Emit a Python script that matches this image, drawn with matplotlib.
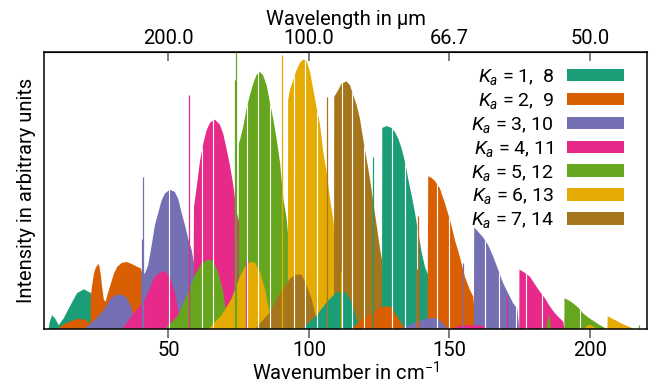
import numpy as np
import matplotlib
matplotlib.use("Agg")
import matplotlib.pyplot as plt
from matplotlib.patches import Patch
from matplotlib.ticker import FormatStrFormatter

plt.rcParams["font.family"] = ["Roboto", "DejaVu Sans"]
plt.rcParams["mathtext.fontset"] = "custom"
plt.rcParams["mathtext.rm"] = "Roboto"
plt.rcParams["mathtext.it"] = "Roboto:italic"
plt.rcParams["mathtext.bf"] = "Roboto:bold"

# Series colours (Dark2), one per K_a pair
colors = ["#1b9e77", "#d95f02", "#7570b3", "#e7298a", "#66a61e", "#e6ab02", "#a6761d"]
legend_labels = ["$K_a$ = 1,  8", "$K_a$ = 2,  9", "$K_a$ = 3, 10", "$K_a$ = 4, 11",
                 "$K_a$ = 5, 12", "$K_a$ = 6, 13", "$K_a$ = 7, 14"]

# Envelopes of the stick spectrum (wavenumber in cm^-1, relative intensity)
# "lower" = weak sub-band, "upper" = strong sub-band, per K_a
lower_1 = [(7.4, 0), (7.8, 0.026), (8.6, 0.05), (9.6, 0.04), (10.8, 0.018), (11.4, 0)]
upper_1 = [(10.6, 0), (11.0, 0.015), (12.8, 0.04), (15.2, 0.087), (17.5, 0.13), (19.9, 0.144),
           (22.3, 0.131), (24.2, 0.09), (25.6, 0.04), (26.3, 0)]

lower_2 = [(10.3, 0), (13.2, 0.02), (17.4, 0.037), (20.3, 0.035), (22.4, 0.02), (23.5, 0)]
upper_2 = [(22.25, 0), (22.4, 0.12), (22.9, 0.16), (23.5, 0.2), (24.1, 0.22), (24.7, 0.23),
           (25.3, 0.235), (25.9, 0.2), (26.45, 0.15), (27.05, 0.105), (27.7, 0.1), (28.2, 0.12),
           (29.4, 0.16), (30.6, 0.2), (31.8, 0.225), (33.6, 0.24), (35.3, 0.242), (37.0, 0.235),
           (38.9, 0.225), (40.1, 0.22), (41.6, 0.18), (43.4, 0.1), (44.8, 0)]

lower_3 = [(19.9, 0), (23.5, 0.03), (27.05, 0.069), (29.4, 0.11), (31.2, 0.123), (33.0, 0.125),
           (34.8, 0.118), (36.55, 0.087), (37.7, 0.045), (38.8, 0)]
upper_3 = [(40.2, 0), (40.4, 0.2), (41.6, 0.2), (42.8, 0.23), (44.0, 0.3), (45.2, 0.375),
           (46.4, 0.42), (47.6, 0.465), (48.8, 0.49), (50.5, 0.503), (52.3, 0.495), (53.5, 0.47),
           (54.7, 0.42), (55.9, 0.375), (57.05, 0.326), (58.3, 0.285), (59.4, 0.22), (60.5, 0)]

lower_4 = [(33.5, 0), (37.7, 0.058), (41.3, 0.1), (43.1, 0.14), (45.2, 0.19), (47.6, 0.208),
           (48.8, 0.209), (50.5, 0.188), (52.3, 0.134), (53.5, 0.069), (54.1, 0)]
upper_4 = [(58.9, 0), (59.1, 0.44), (60.0, 0.507), (61.2, 0.603), (62.4, 0.669), (63.6, 0.717),
           (64.8, 0.745), (66.55, 0.756), (68.3, 0.738), (69.5, 0.705), (70.7, 0.651),
           (71.9, 0.591), (73.1, 0.519), (74.3, 0.422), (75.45, 0.375), (76.5, 0.3), (77.2, 0)]

lower_5 = [(48.8, 0), (53.5, 0.05), (57.05, 0.134), (59.4, 0.195), (61.8, 0.236), (64.2, 0.252),
           (65.95, 0.245), (67.7, 0.206), (69.5, 0.134), (70.7, 0.05), (71.9, 0)]
upper_5 = [(74.9, 0), (75.1, 0.67), (75.45, 0.681), (76.6, 0.729), (77.8, 0.795), (79.0, 0.844),
           (80.2, 0.886), (81.4, 0.918), (82.6, 0.928), (83.7, 0.916), (84.95, 0.88),
           (86.1, 0.819), (87.3, 0.759), (88.5, 0.687), (89.7, 0.603), (90.9, 0.47),
           (92.1, 0.398), (92.9, 0.3), (93.6, 0)]

lower_6 = [(64.1, 0), (68.9, 0.05), (72.5, 0.11), (75.45, 0.19), (77.2, 0.224), (79.0, 0.242),
           (80.8, 0.24), (82.6, 0.206), (84.35, 0.146), (85.5, 0.085), (86.5, 0.03), (87.3, 0)]
upper_6 = [(92.5, 0), (92.6, 0.826), (93.2, 0.862), (94.4, 0.898), (95.6, 0.934), (96.8, 0.961),
           (97.97, 0.973), (99.2, 0.967), (100.4, 0.928), (101.5, 0.868), (102.7, 0.801),
           (103.9, 0.741), (105.1, 0.639), (106.3, 0.567), (107.5, 0.47), (108.65, 0.398),
           (109.6, 0.3), (110.3, 0)]

lower_7 = [(80.8, 0), (86.1, 0.061), (88.5, 0.11), (90.9, 0.146), (93.2, 0.182), (95.6, 0.197),
           (97.4, 0.196), (99.2, 0.158), (100.96, 0.11), (102.1, 0.061), (103.3, 0)]
upper_7 = [(108.9, 0), (109.0, 0.838), (110.4, 0.862), (111.6, 0.886), (113.4, 0.894),
           (114.6, 0.88), (115.8, 0.844), (117.0, 0.808), (118.15, 0.759), (119.3, 0.687),
           (120.5, 0.615), (121.7, 0.543), (122.9, 0.458), (124.1, 0.374), (125.3, 0.29),
           (126.0, 0.25), (126.7, 0)]

lower_8 = [(97.4, 0), (102.7, 0.049), (106.3, 0.097), (109.3, 0.128), (111.0, 0.136),
           (112.8, 0.135), (114.6, 0.11), (115.8, 0.079), (117.0, 0.037), (118.15, 0)]
upper_8 = [(125.98, 0), (126.1, 0.726), (127.65, 0.733), (129.4, 0.726), (130.6, 0.711),
           (131.8, 0.687), (133.0, 0.651), (134.2, 0.603), (135.3, 0.543), (136.55, 0.483),
           (137.7, 0.422), (138.9, 0.35), (140.1, 0.278), (141.3, 0.224), (142.5, 0.194),
           (143.4, 0.16), (143.8, 0)]

lower_9 = [(115.2, 0), (118.8, 0.037), (121.1, 0.049), (123.5, 0.067), (125.9, 0.079),
           (127.65, 0.083), (129.4, 0.08), (131.2, 0.049), (133.0, 0.019), (134.2, 0)]
upper_9 = [(142.2, 0), (142.45, 0.552), (143.7, 0.545), (144.8, 0.535), (146.6, 0.508),
           (148.4, 0.454), (150.2, 0.394), (151.96, 0.321), (153.7, 0.261), (155.5, 0.189),
           (157.3, 0.141), (158.5, 0.117), (159.4, 0)]

lower_10 = [(132.4, 0), (136.55, 0.019), (141.3, 0.037), (143.1, 0.04), (145.45, 0.04),
            (147.2, 0.027), (149.0, 0.007), (149.5, 0)]
upper_10 = [(158.7, 0), (158.8, 0.367), (160.25, 0.351), (162.0, 0.331), (163.8, 0.303),
            (165.6, 0.261), (167.4, 0.213), (169.15, 0.165), (170.9, 0.129), (172.7, 0.093),
            (174.1, 0.075), (174.9, 0)]

lower_11 = [(151.25, 0), (153.0, 0.012), (157.3, 0.015), (161.9, 0.012), (163.35, 0)]
upper_11 = [(174.84, 0), (174.9, 0.215), (176.9, 0.203), (178.65, 0.189), (180.4, 0.162),
            (182.2, 0.135), (184.0, 0.111), (185.8, 0.081), (187.55, 0.057), (189.3, 0.039),
            (190.5, 0.027), (190.9, 0)]

lower_12 = [(184.35, 0), (184.9, 0.03), (185.2, 0.055), (185.8, 0.03), (186.1, 0)]
upper_12 = [(190.86, 0), (190.93, 0.111), (192.3, 0.105), (194.06, 0.093), (195.8, 0.078),
            (197.6, 0.057), (199.4, 0.042), (201.2, 0.03), (202.96, 0.018), (204.7, 0.008),
            (206.1, 0)]

lower_13 = [(197.9, 0), (198.9, 0.012), (200.0, 0.016), (201.4, 0.008), (202.1, 0)]
upper_13 = [(206.2, 0), (206.3, 0.047), (207.7, 0.039), (209.5, 0.03), (211.3, 0.02),
            (213.1, 0.012), (214.8, 0.005), (215.3, 0)]

lower_14 = []
upper_14 = []

# Isolated strong lines (wavenumber, intensity)
lines_3 = [(40.7, 0.325), (41.05, 0.55)]
lines_4 = [(57.4, 0.844), (77.6, 0.25)]
lines_5 = [(73.7, 0.90), (74.2, 1.05)]
lines_6 = [(90.4, 0.99), (111.4, 0.209)]
lines_7 = [(106.5, 0.838)]
lines_8 = [(122.9, 0.621)]
lines_9 = [(138.3, 0.218), (138.9, 0.408)]
lines_10 = [(154.66, 0.24)]
lines_11 = [(170.3, 0.118)]
lines_12 = [(217.4, 0.015)]

# Missing lines (gaps) inside the strong sub-bands
gaps_3 = [50.1]
gaps_4 = [62.0, 65.95]
gaps_5 = [77.8, 81.96, 86.1]
gaps_6 = [94.8, 98.6, 103.0]
gaps_7 = [111.6, 115.4, 119.5]
gaps_8 = [129.7, 134.2, 138.6]
gaps_9 = [145.4, 149.9]
gaps_10 = [162.6, 167.6, 173.7]
gaps_11 = [177.2, 183.0]
gaps_12 = [196.4]

lowers = [lower_1, lower_2, lower_3, lower_4, lower_5, lower_6, lower_7,
          lower_8, lower_9, lower_10, lower_11, lower_12, lower_13, lower_14]
uppers = [upper_1, upper_2, upper_3, upper_4, upper_5, upper_6, upper_7,
          upper_8, upper_9, upper_10, upper_11, upper_12, upper_13, upper_14]
lines = [[], [], lines_3, lines_4, lines_5, lines_6, lines_7,
         lines_8, lines_9, lines_10, lines_11, lines_12, [], []]
gaps = [[], [], gaps_3, gaps_4, gaps_5, gaps_6, gaps_7,
        gaps_8, gaps_9, gaps_10, gaps_11, gaps_12, [], []]

FS = 14.5

fig = plt.figure(figsize=(6.65, 3.85), dpi=100)
ax = fig.add_axes([0.066, 0.145, 0.907, 0.72])

for k in range(14):
    c = colors[k % 7]
    if lowers[k]:
        xs, ys = zip(*lowers[k])
        ax.fill(xs, ys, color=c, lw=0)
    if uppers[k]:
        xs, ys = zip(*uppers[k])
        poly = ax.fill(xs, ys, color=c, lw=0)[0]
        if gaps[k]:
            gl = ax.vlines(gaps[k], 0, 1.2, colors="white", lw=0.8)
            gl.set_clip_path(poly)
    if lines[k]:
        lx, ly = zip(*lines[k])
        ax.vlines(lx, 0, ly, colors=c, lw=0.9)

ax.set_xlim(5.7, 220.3)
ax.set_ylim(0, 1)
ax.set_yticks([])
ax.set_xticks([50, 100, 150, 200])
ax.tick_params(axis="x", direction="out", length=6.5, width=1.2, color="#666666",
               labelsize=FS, pad=2)
for s in ax.spines.values():
    s.set_linewidth(1.1)
ax.set_xlabel("Wavenumber in cm$^{-1}$", fontsize=FS, labelpad=1)
ax.set_ylabel("Intensity in arbitrary units", fontsize=FS, labelpad=6)


def inv(x):
    x = np.asarray(x, dtype=float)
    with np.errstate(divide="ignore"):
        return np.where(x == 0, np.inf, 1e4 / np.where(x == 0, 1, x))


secax = ax.secondary_xaxis("top", functions=(inv, inv))
secax.set_xticks([200, 100, 1e4 / 150, 50])
secax.xaxis.set_major_formatter(FormatStrFormatter("%.1f"))
secax.tick_params(direction="in", length=6.5, width=1.2, color="#666666", labelsize=FS, pad=3)
secax.set_xlabel("Wavelength in µm", fontsize=FS, labelpad=3)

handles = [Patch(facecolor=c, edgecolor="none") for c in colors]
ax.legend(handles, legend_labels, loc="upper right", bbox_to_anchor=(0.968, 0.96),
          frameon=False, markerfirst=False, fontsize=14, handlelength=2.9,
          handleheight=0.6, handletextpad=0.7, labelspacing=0.2, borderpad=0.2,
          borderaxespad=0)

fig.savefig("out.png", dpi=100)
